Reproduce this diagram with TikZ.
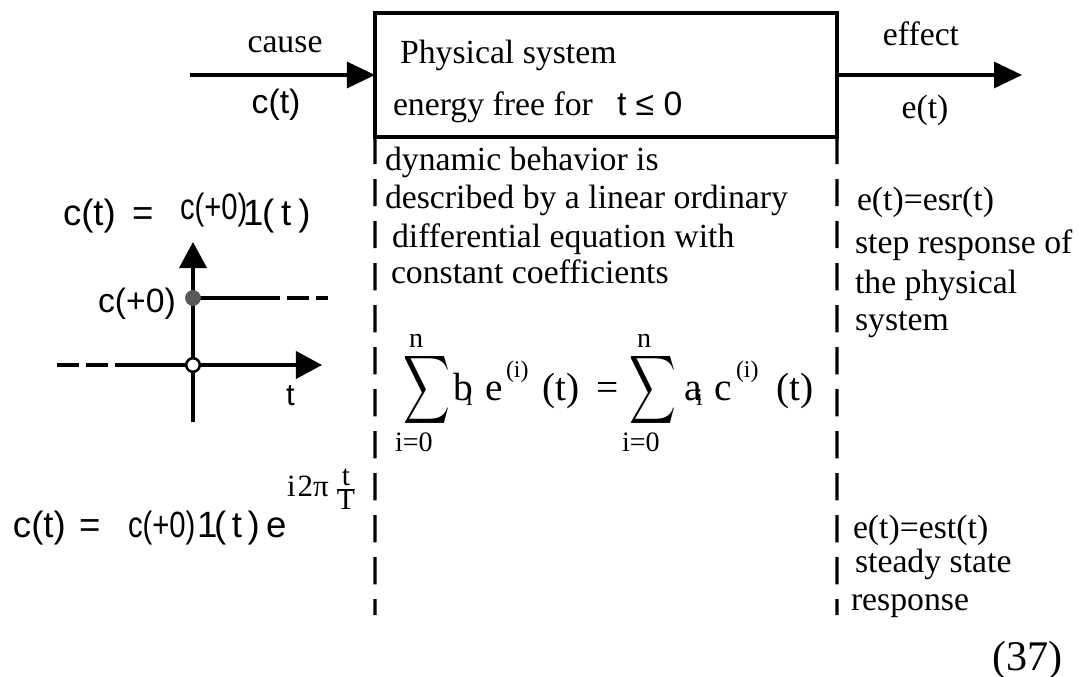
\documentclass[tikz,border=0pt]{standalone}
\usepackage{graphicx}
\usepackage{fontspec}
\setmainfont{Liberation Serif}
\setsansfont{Liberation Sans}
\usetikzlibrary{arrows.meta}
\newcommand{\narrow}[1]{\scalebox{0.8}[1]{#1}}
\newcommand{\bigsum}{\scalebox{2.3}[3.4]{$\displaystyle\sum$}}
\begin{document}
\begin{tikzpicture}[x=0.025cm,y=-0.025cm,
  every node/.style={inner sep=0pt, outer sep=0pt},
  txt/.style={anchor=base west, font=\fontsize{24}{28}\selectfont},
  lbl/.style={anchor=base, font=\fontsize{24}{28}\selectfont},
  sfl/.style={anchor=base west, font=\sffamily\fontsize{24}{28}\selectfont},
  sfb/.style={anchor=base west, font=\sffamily\fontsize{26}{30}\selectfont},
  eqt/.style={anchor=base west, font=\rmfamily\fontsize{28}{32}\selectfont},
  eqs/.style={anchor=base west, font=\rmfamily\fontsize{17}{20}\selectfont},
  eql/.style={anchor=base west, font=\rmfamily\fontsize{20}{24}\selectfont},
  sysbox/.style={draw, line width=2.3pt, minimum width=11.55cm, minimum height=3.1cm},
  flow/.style={line width=2.3pt, -{Triangle[length=0.7cm,width=0.65cm]}},
  guide/.style={line width=2.3pt, dash pattern=on 0.68cm off 0.37cm},
  axis/.style={line width=2.2pt, -{Triangle[length=0.65cm,width=0.68cm]}},
  plotline/.style={line width=2.2pt},
  plotdash/.style={line width=2.2pt, dash pattern=on 0.55cm off 0.18cm},
]
\useasboundingbox (0,0) rectangle (1079,677);

% system box
\node[sysbox] (sys) at (606,75) {};
\coordinate (cin) at (190,75);
\coordinate (eout) at (1022,75);
\draw[flow] (cin) -- (sys.west);
\draw[flow] (sys.east) -- (eout);
\node[lbl] (cause) at (285,52) {cause};
\node[lbl, font=\sffamily\fontsize{24}{28}\selectfont] (ct) at (276,113) {c(t)};
\node[lbl] (effect) at (921,45) {effect};
\node[lbl] (et) at (925,118) {e(t)};
\node[txt] (phys) at (400,63) {Physical system};
\node[txt] (energy) at (393,115) {energy free for};
\node[sfl] (tle) at (617,115) {t ≤ 0};

% dashed guides
\coordinate (lbot) at (375,615);
\coordinate (rbot) at (837,615);
\draw[guide] (sys.south west) -- (lbot);
\draw[guide] (sys.south east) -- (rbot);

% middle description
\node[txt] (d1) at (385,170) {dynamic behavior is};
\node[txt] (d2) at (385,208) {described by a linear ordinary};
\node[txt] (d3) at (392,247) {differential equation with};
\node[txt] (d4) at (391,283) {constant coefficients};

% equation
\node (sum1) at (427,390) {\bigsum};
\node[eql] (n1) at (409,347) {n};
\node[eql] (l1) at (395,451) {i=0};
\node[eqt] (b1) at (453,400) {b};
\node[eqs] (bi) at (466,405) {i};
\node[eqt] (e1) at (485,400) {e};
\node[eqs] (ei) at (506,377) {(i)};
\node[eqt] (t1) at (542,400) {(t)};
\node[eqt] (eqsign) at (596,400) {=};
\node (sum2) at (653,390) {\bigsum};
\node[eql] (n2) at (637,347) {n};
\node[eql] (l2) at (622,451) {i=0};
\node[eqt] (a2) at (684,400) {a};
\node[eqs] (ai) at (696,405) {i};
\node[eqt] (c2) at (714,400) {c};
\node[eqs] (ci) at (736,377) {(i)};
\node[eqt] (t2) at (776,400) {(t)};

% right descriptions
\node[txt] (r1) at (857,210) {e(t)=esr(t)};
\node[txt] (r2) at (855,253) {step response of};
\node[txt] (r3) at (855,293) {the physical};
\node[txt] (r4) at (855,330) {system};
\node[txt] (s1) at (853,538) {e(t)=est(t)};
\node[txt] (s2) at (855,572) {steady state};
\node[txt] (s3) at (851,610) {response};
\node[anchor=base west, font=\fontsize{30}{36}\selectfont] (num) at (992,670) {(37)};

% step function formula
\node[sfb] (sa) at (63,225) {c(t)};
\node[sfb] (sb) at (132,225) {=};
\node[sfb] (sc) at (180,219) {\narrow{c(+0)}};
\node[sfb] (sd) at (243,225) {1};
\node[sfb] (se) at (262,225) {(\kern5pt t\kern5pt)};

% step function plot
\coordinate (vb) at (193,422);
\coordinate (vt) at (193,242);
\draw[axis] (vb) -- (vt);
\coordinate (hl) at (57,365);
\coordinate (h0) at (128,365);
\coordinate (hr) at (322,365);
\draw[plotdash] (hl) -- (h0);
\draw[axis] (h0) -- (hr);
\coordinate (s0) at (193,298);
\coordinate (s1c) at (258,298);
\coordinate (s2c) at (328,298);
\draw[plotline] (s0) -- (s1c);
\draw[plotdash] (s1c) -- (s2c);
\node[circle, fill=black!65, draw=black!65, minimum size=0.38cm] (fdot) at (s0) {};
\node[circle, fill=white, draw=black, line width=1.8pt, minimum size=0.34cm] (odot) at (193,365) {};
\node[sfl] (c0) at (98,312) {c(+0)};
\node[sfl, font=\sffamily\fontsize{22}{26}\selectfont] (tlab) at (286,405) {t};

% periodic formula
\node[sfb] (fa) at (13,537) {c(t)};
\node[sfb] (fb) at (79,537) {=};
\node[sfb] (fc) at (128,537) {\narrow{c(+0)}};
\node[sfb] (fd) at (197,537) {1};
\node[sfb] (fe) at (214,537) {(\kern4pt t\kern4pt)};
\node[sfb] (ff) at (266,537) {e};
\node[anchor=base west, font=\fontsize{22}{26}\selectfont] (f2e) at (287,496) {i\kern1.5pt 2π};
\node[anchor=center, font=\fontsize{21}{24}\selectfont] (f2f) at (346,489) {$\frac{\mbox{t}}{\mbox{T}}$};
\end{tikzpicture}
\end{document}
